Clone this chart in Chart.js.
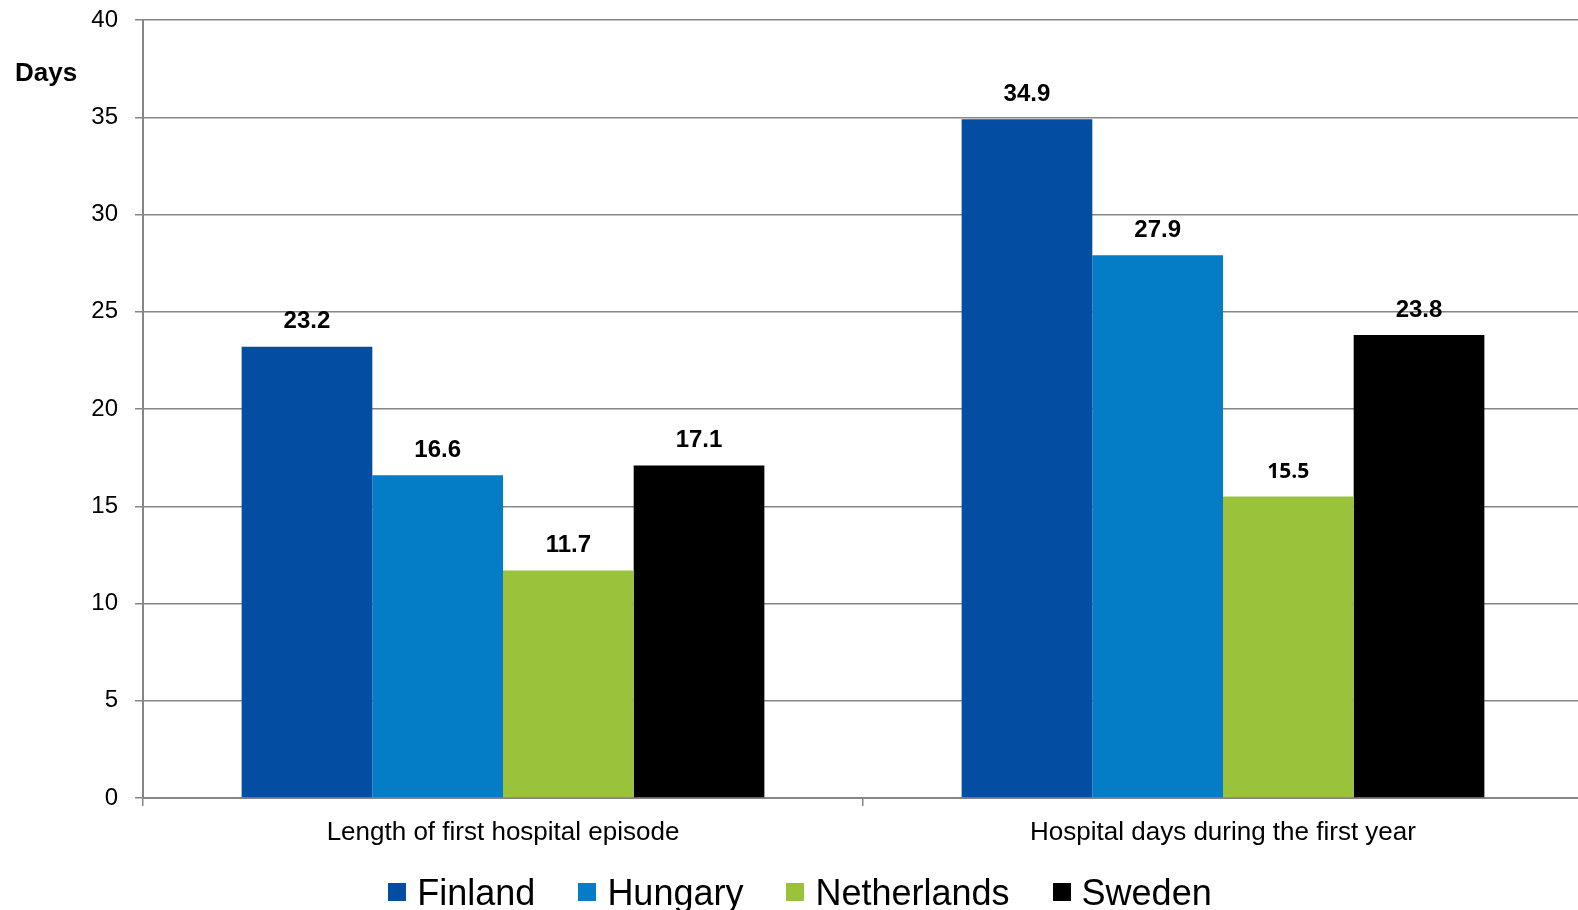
<!DOCTYPE html>
<html>
<head>
<meta charset="utf-8">
<title>Hospital days</title>
<script src="https://cdn.jsdelivr.net/npm/chart.js@4.4.1/dist/chart.umd.min.js"></script>
<style>
  html, body { margin: 0; padding: 0; background: #fff; overflow: hidden; }
  .wrap { position: relative; width: 1583px; height: 910px; }
  #chart { display: block; }
  /* legend sits at the very bottom and is cut off by the window, like the original */
  #legend {
    position: absolute; left: 0; top: 875px; width: 1600px;
    display: flex; justify-content: center; gap: 43px;
    font: 36px "Liberation Sans", Arial, sans-serif; line-height: 36px; color: #000;
  }
  #legend .item { display: flex; align-items: center; gap: 11px; white-space: nowrap; }
  #legend .swatch { width: 18px; height: 18px; margin-top: -3px; }
</style>
</head>
<body>
<div class="wrap">
  <canvas id="chart" width="1583" height="910"></canvas>
  <div id="legend"></div>
</div>
<script>
// data
const categories = ['Length of first hospital episode', 'Hospital days during the first year'];
const countries = ['Finland', 'Hungary', 'Netherlands', 'Sweden'];
const finland = [23.2, 34.9];
const hungary = [16.6, 27.9];
const netherlands = [11.7, 15.5];
const sweden = [17.1, 23.8];
const yTicks = [0, 5, 10, 15, 20, 25, 30, 35, 40];

const colors = ['#034ea2', '#047dc6', '#9bc23b', '#000000'];
const seriesValues = [finland, hungary, netherlands, sweden];

const gridGray = '#868686';
const arial = '"Liberation Sans", Arial, sans-serif';

// value labels above each bar
const barLabels = {
  id: 'barLabels',
  afterDatasetsDraw(chart) {
    const ctx = chart.ctx;
    ctx.save();
    ctx.fillStyle = '#000';
    ctx.textAlign = 'center';
    ctx.textBaseline = 'middle';
    chart.data.datasets.forEach((ds, i) => {
      const meta = chart.getDatasetMeta(i);
      meta.data.forEach((bar, j) => {
        // the 15.5 label is set in a different font in the original
        if (i === 2 && j === 1) ctx.font = 'bold 21px "Open Sans", "Noto Sans", sans-serif';
        else ctx.font = 'bold 24px ' + arial;
        ctx.fillText(ds.data[j].toFixed(1), bar.x, bar.y - 25);
      });
    });
    ctx.restore();
  }
};

// "Days" caption in the top left corner
const unitCaption = {
  id: 'unitCaption',
  afterDraw(chart) {
    const ctx = chart.ctx;
    ctx.save();
    ctx.font = 'bold 26px ' + arial;
    ctx.fillStyle = '#000';
    ctx.textAlign = 'left';
    ctx.textBaseline = 'middle';
    ctx.fillText('Days', 15, 74);
    ctx.restore();
  }
};

const chart = new Chart(document.getElementById('chart'), {
  type: 'bar',
  data: {
    labels: categories,
    datasets: countries.map((name, i) => ({
      label: name,
      data: seriesValues[i],
      backgroundColor: colors[i],
      borderWidth: 0,
      categoryPercentage: 0.726,
      barPercentage: 1
    }))
  },
  options: {
    responsive: false,
    animation: false,
    devicePixelRatio: 1,
    layout: { padding: { left: 17, right: 0, top: 20, bottom: 0 } },
    plugins: {
      tooltip: { enabled: false },
      title: { display: false },
      legend: { display: false }
    },
    scales: {
      x: {
        grid: {
          display: true,
          offset: true,
          drawOnChartArea: false,
          drawTicks: true,
          tickLength: 8,
          color: gridGray,
          lineWidth: 1.5
        },
        border: { display: true, color: gridGray, width: 2 },
        ticks: {
          color: '#000',
          padding: 11,
          maxRotation: 0,
          font: { family: arial, size: 26 }
        },
        afterFit(axis) { axis.height = 112; }
      },
      y: {
        min: 0,
        max: 40,
        afterBuildTicks(axis) { axis.ticks = yTicks.map(v => ({ value: v })); },
        grid: {
          color: gridGray,
          lineWidth: 1.5,
          drawTicks: true,
          tickLength: 8,
          tickColor: gridGray
        },
        border: { display: true, color: gridGray, width: 2 },
        ticks: {
          color: '#000',
          padding: 17,
          font: { family: arial, size: 24 }
        },
        afterFit(axis) {
          axis.width = 126;
          // the label padding would otherwise push the plot top down
          axis.paddingTop = 0;
          axis.paddingBottom = 0;
        }
      }
    }
  },
  plugins: [barLabels, unitCaption]
});

// html legend built from the datasets
const legend = document.getElementById('legend');
chart.data.datasets.forEach(ds => {
  const item = document.createElement('div');
  item.className = 'item';
  const swatch = document.createElement('span');
  swatch.className = 'swatch';
  swatch.style.background = ds.backgroundColor;
  const text = document.createElement('span');
  text.textContent = ds.label;
  item.appendChild(swatch);
  item.appendChild(text);
  legend.appendChild(item);
});
</script>
</body>
</html>
